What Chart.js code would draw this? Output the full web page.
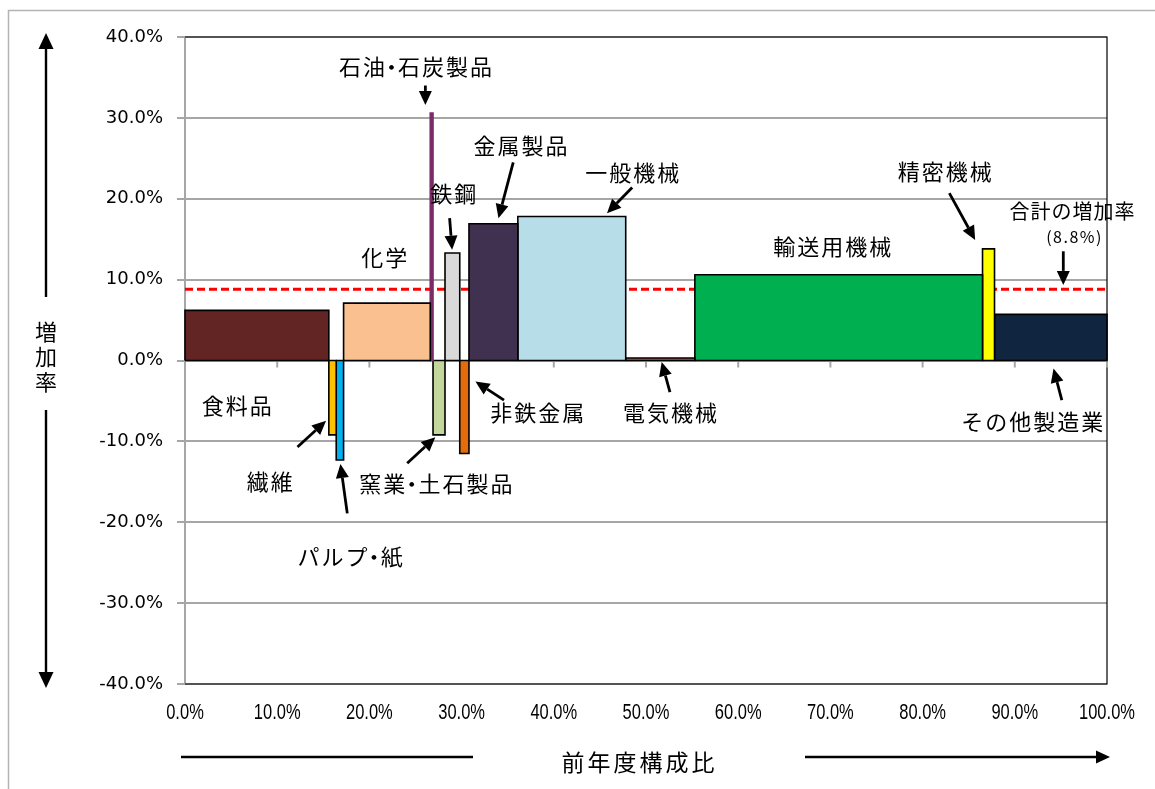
<!DOCTYPE html>
<html lang="ja">
<head>
<meta charset="utf-8">
<title>業種別 増加率と前年度構成比</title>
<script src="https://cdn.jsdelivr.net/npm/chart.js@4/dist/chart.umd.min.js"></script>
<style>
  html, body { margin: 0; padding: 0; background: #ffffff; }
  #wrap { width: 1155px; height: 789px; position: relative; }
  canvas { display: block; }
</style>
</head>
<body>
<div id="wrap"><canvas id="chart" width="1155" height="789"></canvas></div>
<script>
// 業種（左から前年度構成比の順に並ぶ）
const industries = ['食料品', '繊維', 'パルプ・紙', '化学', '石油・石炭製品', '窯業・土石製品', '鉄鋼',
  '非鉄金属', '金属製品', '一般機械', '電気機械', '輸送用機械', '精密機械', 'その他製造業'];
// 前年度構成比（%）= 棒の幅
const shares = [15.6, 0.8, 0.8, 9.4, 0.3, 1.3, 1.6, 1.0, 5.3, 11.7, 7.5, 31.2, 1.3, 12.2];
// 増加率（%）= 棒の高さ
const growth = [6.2, -9.2, -12.3, 7.1, 30.6, -9.2, 13.3, -11.5, 16.9, 17.8, 0.3, 10.6, 13.8, 5.7];
// 合計の増加率（%）
const totalGrowth = 8.8;
// 軸目盛（%）
const yTicks = [-40, -30, -20, -10, 0, 10, 20, 30, 40];
const xTicks = [0, 10, 20, 30, 40, 50, 60, 70, 80, 90, 100];

const fills = ['#632523', '#FFC000', '#00B0F0', '#FAC090', '#7A2D68', '#C3D69B', '#D9D9D9',
  '#E46C0A', '#403151', '#B7DEE8', '#C0504D', '#00B050', '#FFFF00', '#10253F'];
const edges = ['#000', '#000', '#000', '#000', '#7A2D68', '#000', '#000',
  '#000', '#000', '#000', '#000', '#000', '#000', '#000'];

// 各業種の名札と矢印（位置は軸の値で指定）
const callouts = [
  { text: '石油・石炭製品', at: [25.0, 36.3], from: [26.07, 34.0], to: [26.07, 31.6] },
  { text: '金属製品', at: [36.4, 26.6], from: [35.6, 24.5], to: [34.0, 17.6] },
  { text: '鉄鋼', at: [29.1, 20.6], from: [28.7, 17.6], to: [28.97, 13.7] },
  { text: '一般機械', at: [48.5, 23.2], from: [48.5, 21.4], to: [45.77, 18.2] },
  { text: '化学', at: [21.6, 12.7] },
  { text: '輸送用機械', at: [70.2, 14.05] },
  { text: '精密機械', at: [82.4, 23.3], from: [82.9, 20.7], to: [85.7, 14.9] },
  { text: '食料品', at: [5.6, -5.6] },
  { text: '繊維', at: [9.2, -15.0], from: [12.2, -10.7], to: [15.3, -7.45] },
  { text: 'パルプ・紙', at: [17.9, -24.2], from: [17.6, -18.9], to: [16.86, -12.8] },
  { text: '窯業・土石製品', at: [27.2, -15.2], from: [24.1, -12.7], to: [27.15, -9.5] },
  { text: '非鉄金属', at: [38.2, -6.4], from: [34.6, -4.9], to: [31.5, -2.6] },
  { text: '電気機械', at: [52.6, -6.5], from: [52.6, -3.9], to: [51.7, -0.2] },
  { text: 'その他製造業', at: [91.9, -7.6], from: [95.1, -4.9], to: [94.2, -1.0] },
  { text: '合計の増加率', at: [96.2, 18.4], size: 20, gap: 1 },
  { text: '(8.8%)', at: [96.4, 15.25], size: 16, gap: 1.5, from: [95.26, 13.5], to: [95.26, 9.35] }
];

const JP = '"Noto Sans CJK JP", "Noto Sans", sans-serif';

// 構成比を積み上げて、各業種の長方形（左端→右端）を作る
const bars = [];
let left = 0;
industries.forEach((name, i) => {
  const right = left + shares[i];
  const v = growth[i];
  bars.push({
    label: name,
    data: [{ x: left, y: 0 }, { x: left, y: v }, { x: right, y: v }, { x: right, y: 0 }, { x: left, y: 0 }],
    backgroundColor: fills[i],
    borderColor: edges[i],
    borderWidth: 1.6,
    fill: 'shape',
    pointRadius: 0,
    tension: 0,
    clip: false,
    order: 0
  });
  left = right;
});

const totalLine = {
  label: '合計の増加率',
  data: [{ x: 0, y: totalGrowth }, { x: 100, y: totalGrowth }],
  borderColor: '#FF0000',
  borderWidth: 3,
  borderDash: [8, 4],
  pointRadius: 0,
  fill: false,
  order: 5
};

function drawArrow(ctx, x1, y1, x2, y2, head, half, width) {
  const a = Math.atan2(y2 - y1, x2 - x1);
  const bx = x2 - head * Math.cos(a), by = y2 - head * Math.sin(a);
  ctx.lineWidth = width;
  ctx.beginPath(); ctx.moveTo(x1, y1); ctx.lineTo(bx, by); ctx.stroke();
  ctx.beginPath();
  ctx.moveTo(x2, y2);
  ctx.lineTo(bx + half * Math.sin(a), by - half * Math.cos(a));
  ctx.lineTo(bx - half * Math.sin(a), by + half * Math.cos(a));
  ctx.closePath(); ctx.fill();
}

// 字間を付けて中央揃えで描く（中黒は半角幅で詰める）
function drawSpaced(ctx, text, cx, cy, size, gap) {
  ctx.font = size + 'px ' + JP;
  const chars = Array.from(text);
  const widths = chars.map(ch => ch === '・' ? size * 0.42 : ctx.measureText(ch).width);
  const total = widths.reduce((s, w) => s + w, 0) + gap * (chars.length - 1);
  let x = cx - total / 2;
  ctx.textAlign = 'center'; ctx.textBaseline = 'middle';
  chars.forEach((ch, i) => {
    ctx.fillText(ch, x + widths[i] / 2, cy);
    x += widths[i] + gap;
  });
}

const framePlugin = {
  id: 'frame',
  beforeDatasetsDraw(chart) {
    const { ctx, chartArea: a, scales } = chart;
    ctx.save();
    // 作図領域の枠（上・右・下）
    ctx.strokeStyle = '#000'; ctx.lineWidth = 1.2;
    ctx.beginPath();
    ctx.moveTo(a.left, a.top); ctx.lineTo(a.right, a.top);
    ctx.lineTo(a.right, a.bottom); ctx.lineTo(a.left, a.bottom);
    ctx.stroke();
    // 横軸は 0% の位置で交差し、目盛りを下向きに描く
    const y0 = scales.y.getPixelForValue(0);
    ctx.strokeStyle = '#a6a6a6'; ctx.lineWidth = 2;
    xTicks.forEach(t => {
      const x = scales.x.getPixelForValue(t);
      ctx.beginPath(); ctx.moveTo(x, y0); ctx.lineTo(x, y0 + 7); ctx.stroke();
    });
    // 横軸の目盛ラベル（縦長の字形に詰めて描く）
    ctx.fillStyle = '#000';
    ctx.font = '22px "Liberation Sans", Arial, sans-serif';
    ctx.textAlign = 'center'; ctx.textBaseline = 'middle';
    xTicks.forEach(t => {
      ctx.save();
      ctx.translate(scales.x.getPixelForValue(t), 713);
      ctx.scale(0.75, 1);
      ctx.fillText(t.toFixed(1) + '%', 0, 0);
      ctx.restore();
    });
    ctx.restore();
  },
  afterDatasetsDraw(chart) {
    const { ctx, scales } = chart;
    const px = v => scales.x.getPixelForValue(v);
    const py = v => scales.y.getPixelForValue(v);
    ctx.save();
    ctx.fillStyle = '#000'; ctx.strokeStyle = '#000';
    callouts.forEach(c => {
      drawSpaced(ctx, c.text, px(c.at[0]), py(c.at[1]), c.size || 22, c.gap == null ? 2 : c.gap);
      if (c.from) drawArrow(ctx, px(c.from[0]), py(c.from[1]), px(c.to[0]), py(c.to[1]), 14, 6.5, 2.8);
    });
    ctx.restore();
  },
  afterDraw(chart) {
    const { ctx } = chart;
    ctx.save();
    // 外枠
    ctx.strokeStyle = '#b4b4b4'; ctx.lineWidth = 1.5;
    ctx.beginPath(); ctx.moveTo(8.5, 800); ctx.lineTo(8.5, 10.5); ctx.lineTo(1160, 10.5); ctx.stroke();
    ctx.fillStyle = '#000'; ctx.strokeStyle = '#000';
    // 縦軸の見出し「増加率」と上下の矢印
    ctx.font = '22px ' + JP; ctx.textAlign = 'center'; ctx.textBaseline = 'middle';
    ['増', '加', '率'].forEach((ch, i) => ctx.fillText(ch, 46, 332 + i * 25));
    drawArrow(ctx, 46, 297, 46, 33, 16, 7.5, 2.4);
    drawArrow(ctx, 46, 410, 46, 688, 16, 7.5, 2.4);
    // 横軸の見出し「前年度構成比」と左右の線
    drawSpaced(ctx, '前年度構成比', 638, 762, 23, 3);
    ctx.lineWidth = 2.4;
    ctx.beginPath(); ctx.moveTo(181, 757); ctx.lineTo(473, 757); ctx.stroke();
    drawArrow(ctx, 805, 757, 1110, 757, 14, 6.5, 2.4);
    ctx.restore();
  }
};

new Chart(document.getElementById('chart'), {
  type: 'line',
  data: { datasets: [totalLine, ...bars] },
  options: {
    responsive: false,
    animation: false,
    devicePixelRatio: 1,
    layout: { padding: { top: 37, right: 48, bottom: 0, left: 0 } },
    plugins: { legend: { display: false }, tooltip: { enabled: false } },
    scales: {
      x: {
        type: 'linear', min: 0, max: 100,
        afterBuildTicks: s => { s.ticks = xTicks.map(v => ({ value: v })); },
        afterFit: s => { s.height = 105; },
        grid: { display: false },
        border: { display: false },
        ticks: { display: false }
      },
      y: {
        type: 'linear', min: -40, max: 40,
        afterBuildTicks: s => { s.ticks = yTicks.map(v => ({ value: v })); },
        afterFit: s => { s.width = 185; },
        grid: { color: '#a6a6a6', lineWidth: 2, tickLength: 8, drawTicks: true },
        border: { color: '#a6a6a6', width: 2 },
        ticks: {
          padding: 14,
          color: '#000',
          font: { family: '"DejaVu Sans", sans-serif', size: 18 },
          callback: v => v.toFixed(1) + '%'
        }
      }
    }
  },
  plugins: [framePlugin]
});
</script>
</body>
</html>
